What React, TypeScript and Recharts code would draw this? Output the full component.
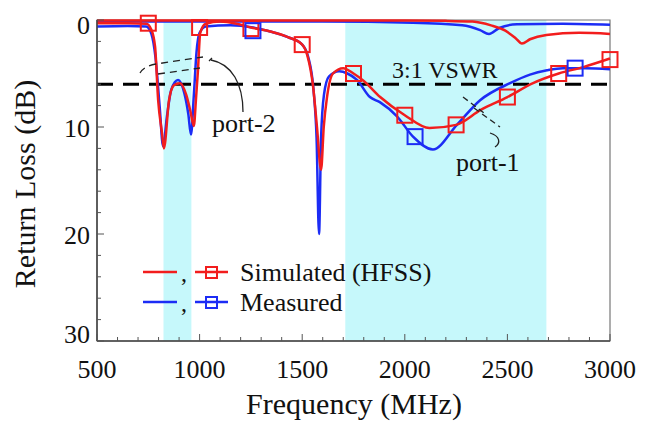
import React from "react";
import {
  ComposedChart,
  Line,
  XAxis,
  YAxis,
  ReferenceArea,
  ReferenceLine,
} from "recharts";

const RED = "#f21d1d";
const BLUE = "#1c2cf5";
const CYAN = "#c6f8fb";
const FONT = "'Liberation Serif', Tinos, 'DejaVu Serif', serif";

// frequency ticks (MHz), labelled every 500
const X_TICKS = [
  500, 600, 700, 800, 900, 1000, 1100, 1200, 1300, 1400, 1500, 1600, 1700,
  1800, 1900, 2000, 2100, 2200, 2300, 2400, 2500, 2600, 2700, 2800, 2900, 3000,
];
// return loss ticks (dB), labelled every 10
const Y_TICKS = [0, 2, 4, 6, 8, 10, 12, 14, 16, 18, 20, 22, 24, 26, 28, 30];

// shaded operating bands [from, to] in MHz
const BANDS = [
  [824, 960],
  [1710, 2690],
];
const VSWR_LEVEL = 6;

// [MHz, dB]
const simPort1 = [
  [500, 0.3], [650, 0.3], [740, 0.35], [765, 0.9], [783, 2.5], [798, 7.5],
  [817, 10.6], [826, 12], [851, 7.5], [875, 6.1], [905, 5.9], [935, 7.0],
  [955, 8.5], [972, 9.9], [982, 7.5], [992, 4.7], [1003, 1.2], [1030, 0.35],
  [1100, 0.15], [1180, 0.35], [1250, 0.7], [1350, 1.1], [1430, 1.6],
  [1500, 2.3], [1525, 3.3], [1553, 6.2], [1572, 10], [1592, 14], [1605, 10],
  [1621, 7.2], [1650, 5.0], [1700, 4.5], [1750, 5.0], [1800, 5.7],
  [1880, 7.2], [2000, 8.9], [2120, 10.1], [2250, 9.8], [2370, 8.4],
  [2500, 7.2], [2625, 5.9], [2750, 5.0], [2870, 4.4], [3000, 3.6],
];
const measPort1 = [
  [500, 0.6], [650, 0.55], [740, 0.6], [765, 1.3], [785, 3.5], [805, 8],
  [822, 11.8], [841, 9], [862, 6.5], [895, 5.6], [925, 6.8], [945, 8.8],
  [958, 10.7], [972, 7], [985, 3], [1000, 1.2], [1030, 0.6], [1150, 0.5],
  [1260, 0.7], [1350, 1.1], [1430, 1.6], [1500, 2.3], [1530, 3.5],
  [1555, 6.5], [1570, 11], [1582, 20], [1592, 11], [1606, 7], [1630, 5.3],
  [1680, 4.8], [1720, 5.0], [1767, 5.6], [1830, 7.2], [1880, 7.7],
  [1962, 9.0], [2040, 10.9], [2137, 12.1], [2254, 9.8], [2367, 7.5],
  [2513, 5.9], [2610, 5.1], [2693, 4.7], [2771, 4.5], [2880, 4.5],
  [3000, 4.6],
];
const simPort2 = [
  [500, 0.05], [1500, 0.05], [2000, 0.05], [2200, 0.08], [2330, 0.15],
  [2420, 0.5], [2490, 1.0], [2540, 1.7], [2571, 2.2], [2610, 1.8],
  [2690, 1.4], [2850, 1.2], [3000, 1.3],
];
const measPort2 = [
  [500, 0.15], [1600, 0.15], [2040, 0.25], [2280, 0.5], [2367, 0.95],
  [2410, 1.3], [2460, 0.75], [2547, 0.4], [2770, 0.35], [3000, 0.45],
];
const simMarkers = [
  [750, 0.3], [1000, 0.7], [1250, 0.8], [1500, 2.3], [1750, 5.0],
  [2000, 8.9], [2250, 9.8], [2500, 7.2], [2750, 5.0], [3000, 3.7],
];
const measMarkers = [
  [1260, 1.0], [2050, 10.9], [2830, 4.5],
];

const toRows = (pts: number[][]) => pts.map(([f, rl]) => ({ f, rl }));

const txtStyle = { fontFamily: FONT, fill: "#111" };

const XTick = ({ x, y, payload }: any) => {
  const major = payload.value % 500 === 0;
  return (
    <g>
      <line x1={x} x2={x} y1={y} y2={y - (major ? 7 : 4)} stroke="#555" />
      {major && (
        <text x={x} y={y + 37} textAnchor="middle" fontSize={26} style={txtStyle}>
          {payload.value}
        </text>
      )}
    </g>
  );
};

const YTick = ({ x, y, payload }: any) => {
  const major = payload.value % 10 === 0;
  let dy = 10;
  if (payload.value === 0) dy = 14;
  if (payload.value === 30) dy = 2;
  return (
    <g>
      <line x1={x} x2={x + (major ? 7 : 4)} y1={y} y2={y} stroke="#555" />
      {major && (
        <text x={x - 7} y={y + dy} textAnchor="end" fontSize={26} style={txtStyle}>
          {payload.value}
        </text>
      )}
    </g>
  );
};

const squareDot = (color: string, size: number) => (p: any) =>
  (
    <rect
      key={p.index}
      x={p.cx - size / 2}
      y={p.cy - size / 2}
      width={size}
      height={size}
      fill="none"
      stroke={color}
      strokeWidth={2}
    />
  );

function Overlay() {
  return (
    <svg
      width={651}
      height={422}
      style={{ position: "absolute", left: 0, top: 0, pointerEvents: "none" }}
    >
      {/* axis titles */}
      <text x={354} y={414} textAnchor="middle" fontSize={30} style={txtStyle}>
        Frequency (MHz)
      </text>
      <text
        transform="translate(35,184) rotate(-90)"
        textAnchor="middle"
        fontSize={30}
        style={txtStyle}
      >
        Return Loss (dB)
      </text>

      {/* annotations */}
      <text x={392} y={78} fontSize={24} style={txtStyle}>3:1 VSWR</text>
      <text x={212} y={132} fontSize={26} style={txtStyle}>port-2</text>
      <text x={456} y={171} fontSize={26} style={txtStyle}>port-1</text>

      <g fill="none" stroke="#222" strokeWidth={1.3}>
        <path d="M140,73 Q144,66 156,64 L203,57" strokeDasharray="7 5" />
        <path d="M158,74 L200,68" strokeDasharray="7 5" />
        <path d="M209,61 L212,58 M211,60 C232,64 243,84 243,112" />
        <path d="M463,97 L484,113" strokeDasharray="6 4" />
        <path d="M474,108 L500,127" strokeDasharray="6 4" />
        <path d="M490,133 C500,136 501,143 495,147" />
      </g>

      {/* legend */}
      <g strokeWidth={2.5}>
        <line x1={143} x2={177} y1={272} y2={272} stroke={RED} />
        <line x1={195} x2={228} y1={272} y2={272} stroke={RED} />
        <rect x={206} y={267} width={11} height={11} fill="none" stroke={RED} strokeWidth={2} />
        <line x1={143} x2={177} y1={302} y2={302} stroke={BLUE} />
        <line x1={195} x2={228} y1={302} y2={302} stroke={BLUE} />
        <rect x={206} y={297} width={11} height={11} fill="none" stroke={BLUE} strokeWidth={2} />
      </g>
      <text x={181} y={281} fontSize={24} style={txtStyle}>,</text>
      <text x={181} y={311} fontSize={24} style={txtStyle}>,</text>
      <text x={240} y={281} fontSize={26} style={txtStyle}>Simulated (HFSS)</text>
      <text x={240} y={311} fontSize={26} style={txtStyle}>Measured</text>
    </svg>
  );
}

export default function App() {
  return (
    <div
      style={{
        position: "absolute",
        left: 0,
        top: 0,
        width: 651,
        height: 422,
        background: "#fff",
        fontFamily: FONT,
      }}
    >
      <ComposedChart
        width={651}
        height={422}
        margin={{ top: 20, right: 41, left: 0, bottom: 0 }}
      >
        <XAxis
          type="number"
          dataKey="f"
          domain={[500, 3000]}
          ticks={X_TICKS}
          interval={0}
          tickSize={0}
          tickMargin={0}
          tickLine={false}
          tick={<XTick />}
          height={81}
          axisLine={{ stroke: "#444", strokeWidth: 1.5 }}
        />
        <YAxis
          type="number"
          reversed
          domain={[0, 30]}
          ticks={Y_TICKS}
          interval={0}
          tickSize={0}
          tickMargin={0}
          tickLine={false}
          tick={<YTick />}
          width={97}
          axisLine={{ stroke: "#444", strokeWidth: 1.5 }}
        />
        {BANDS.map(([a, b]) => (
          <ReferenceArea key={a} x1={a} x2={b} y1={0} y2={30} fill={CYAN} fillOpacity={1} stroke="none" />
        ))}
        <ReferenceArea x1={500} x2={3000} y1={0} y2={30} fill="none" stroke="#777" strokeWidth={1.2} />
        <ReferenceLine y={VSWR_LEVEL} stroke="#000" strokeWidth={3} strokeDasharray="16 10" />

        <Line data={toRows(measPort2)} dataKey="rl" type="monotone" stroke={BLUE} strokeWidth={2.5} dot={false} isAnimationActive={false} />
        <Line data={toRows(simPort2)} dataKey="rl" type="monotone" stroke={RED} strokeWidth={2.5} dot={false} isAnimationActive={false} />
        <Line data={toRows(measPort1)} dataKey="rl" type="monotone" stroke={BLUE} strokeWidth={2.5} dot={false} isAnimationActive={false} />
        <Line data={toRows(simPort1)} dataKey="rl" type="monotone" stroke={RED} strokeWidth={2.5} dot={false} isAnimationActive={false} />
        <Line data={toRows(simMarkers)} dataKey="rl" stroke="none" dot={squareDot(RED, 15)} activeDot={false} isAnimationActive={false} />
        <Line data={toRows(measMarkers)} dataKey="rl" stroke="none" dot={squareDot(BLUE, 15)} activeDot={false} isAnimationActive={false} />
      </ComposedChart>
      <Overlay />
    </div>
  );
}
